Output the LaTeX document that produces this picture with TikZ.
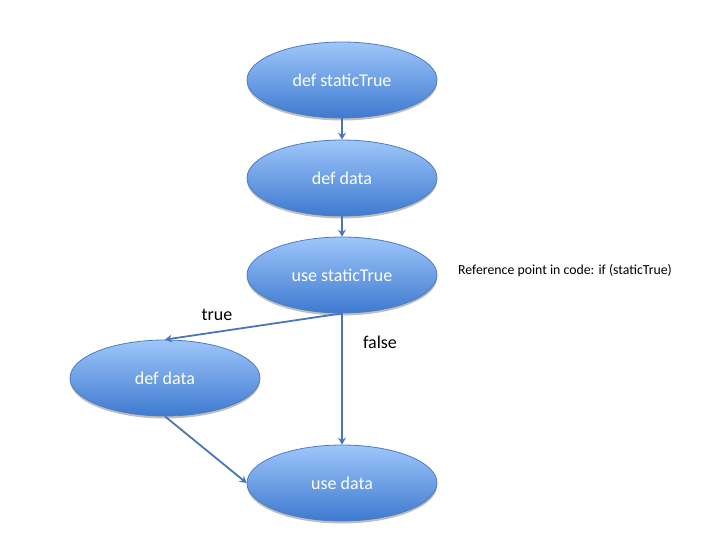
\documentclass[tikz,border=0pt]{standalone}
\usepackage{fontspec}
\setmainfont{Carlito}
\usetikzlibrary{arrows.meta,shadows,shapes.geometric}
\definecolor{ftop}{RGB}{158,198,250}
\definecolor{fbot}{RGB}{62,122,208}
\definecolor{bord}{RGB}{78,124,192}
\definecolor{arr}{RGB}{74,118,184}
\tikzset{
  ell/.style={ellipse, draw=bord, line width=0.8pt, top color=ftop, bottom color=fbot,
    minimum width=190pt, minimum height=76pt, inner sep=0pt, text=white,
    font=\fontsize{18}{21}\selectfont,
    drop shadow={shadow xshift=0pt, shadow yshift=-2.5pt, opacity=0.25, fill=black}},
  conn/.style={draw=arr, line width=1.8pt, -{Stealth[length=7pt,width=8pt,inset=2.5pt]}},
  lbl/.style={font=\fontsize{18}{21}\selectfont, text=black, inner sep=0pt},
  note/.style={font=\fontsize{13.8}{16}\selectfont, text=black, inner sep=0pt}
}
\begin{document}
\begin{tikzpicture}[x=1pt,y=-1pt]
\useasboundingbox (0,0) rectangle (720,540);
\node[ell] (a) at (342,80) {def staticTrue};
\node[ell] (b) at (342,178) {def data};
\node[ell] (c) at (342,275) {use staticTrue};
\node[ell] (d) at (165,378) {def data};
\node[ell] (e) at (342,483) {use data};
\node[note, anchor=west] (n) at (458,271) {Reference point in code: if (staticTrue)};
\draw[conn] (a.south) -- (b.north);
\draw[conn] (b.south) -- (c.north);
\draw[conn] (c.south) -- (d.north);
\draw[conn] (c.south) -- (e.north);
\draw[conn] (d.south) -- (e.west);
\node[lbl] (t) at (217,315) {true};
\node[lbl] (f) at (380,342) {false};
\end{tikzpicture}
\end{document}
